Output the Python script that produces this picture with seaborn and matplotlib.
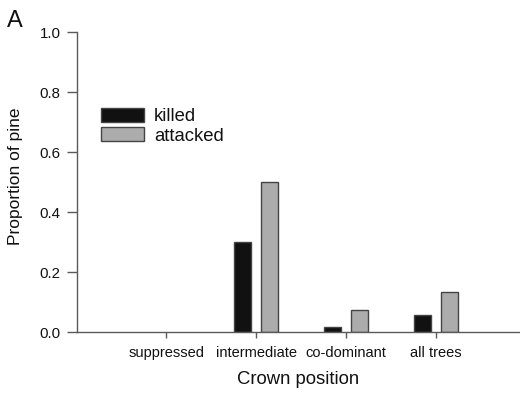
import matplotlib
matplotlib.use("Agg")
import matplotlib.pyplot as plt
import pandas as pd
import seaborn as sns

# Proportion of pine trees killed / attacked, by crown position
positions = ["suppressed", "intermediate", "co-dominant", "all trees"]
killed = [0.0, 0.30, 0.018, 0.058]
attacked = [0.0, 0.50, 0.074, 0.133]
statuses = ["killed", "attacked"]
y_ticks = [0.0, 0.2, 0.4, 0.6, 0.8, 1.0]

df = pd.DataFrame({
    "position": positions * 2,
    "proportion": killed + attacked,
    "status": [statuses[0]] * len(positions) + [statuses[1]] * len(positions),
})

sns.set_theme(style="ticks")
plt.rcParams["font.family"] = ["Liberation Sans", "DejaVu Sans"]

axis_grey = "#5a5a5a"
bar_edge = "#444444"
fig = plt.figure(figsize=(5.2, 3.93), dpi=100)
ax_left, ax_bottom, ax_w, ax_h = 77, 332, 443, 300  # pixels
ax = fig.add_axes([ax_left / 520, 1 - ax_bottom / 393, ax_w / 520, ax_h / 393])

sns.barplot(
    data=df, x="position", y="proportion", hue="status",
    order=positions, hue_order=statuses,
    palette=["#111111", "#acacac"],
    width=0.6, gap=0.37,
    edgecolor=bar_edge, linewidth=1.0,
    ax=ax,
)

ax.set_ylim(0, 1.0)
ax.set_xlim(-0.99, 3.93)
ax.set_yticks(y_ticks)
ax.set_yticklabels([f"{t:.1f}" for t in y_ticks])

for side in ("top", "right"):
    ax.spines[side].set_visible(False)
for side in ("left", "bottom"):
    ax.spines[side].set_color(axis_grey)
    ax.spines[side].set_linewidth(1.0)

ax.tick_params(axis="y", length=7.2, width=1.0, color=axis_grey,
               labelsize=10.8, labelcolor="#111111", pad=4.5)
ax.tick_params(axis="x", length=4.3, width=1.0, color=axis_grey,
               labelsize=10.5, labelcolor="#111111", pad=6)

ax.set_xlabel("Crown position", fontsize=13.3, color="#111111", labelpad=8)
ax.set_ylabel("Proportion of pine", fontsize=12.5, color="#111111")
ax.yaxis.set_label_coords((16 - ax_left) / ax_w, (ax_bottom - 176) / ax_h)
ax.yaxis.label.set_verticalalignment("center")

leg = ax.legend(
    loc="upper left", bbox_to_anchor=(101 / 520, 1 - 108 / 393),
    bbox_transform=fig.transFigure,
    frameon=False, fontsize=13.3, borderpad=0, borderaxespad=0,
    handlelength=2.33, handleheight=0.8, handletextpad=0.55,
    labelspacing=0.1,
)
for t in leg.get_texts():
    t.set_color("#111111")
for h in leg.legend_handles:
    h.set_edgecolor(bar_edge)
    h.set_linewidth(1.0)

# zero-height bars leave no outline on the baseline
for bar in ax.patches:
    if bar.get_height() == 0:
        bar.set_linewidth(0)

fig.text(7 / 520, 1 - 27 / 393, "A", fontsize=17, color="#111111",
         ha="left", va="baseline")

fig.savefig("out.png", dpi=100)
